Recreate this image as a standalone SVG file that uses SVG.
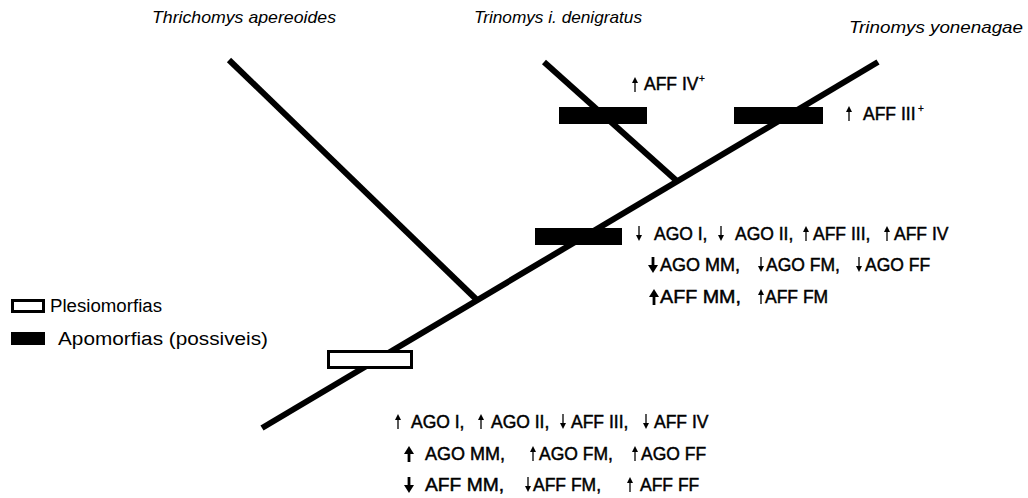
<svg xmlns="http://www.w3.org/2000/svg" xmlns:xlink="http://www.w3.org/1999/xlink" width="1028" height="498" viewBox="0 0 1028 498">
  <style>
    .branch { stroke: #000; stroke-width: 6; fill: none; stroke-linecap: butt; }
    .apo { fill: #000; }
    .ple { fill: #fff; stroke: #000; stroke-width: 3; }
    .taxon { font-family: "Liberation Sans", Arial, sans-serif; font-style: italic; font-size: 17px; fill: #000; }
    .char { font-family: "Liberation Sans", Arial, sans-serif; font-size: 17.5px; fill: #000; stroke: #000; stroke-width: 0.45; }
    .legend { font-family: "Liberation Sans", Arial, sans-serif; font-size: 18px; fill: #000; }
    .sup { font-family: "Liberation Sans", Arial, sans-serif; font-size: 10px; fill: #000; stroke: #000; stroke-width: 0.3; }
    .shaft { stroke: #000; stroke-width: 1.3; fill: none; }
    .shaftB { stroke: #000; stroke-width: 2.8; fill: none; }
  </style>
  <defs>
    <!-- small arrows: origin = centre x, text baseline -->
    <g id="up"><path class="shaft" d="M0,1 V-9"/><path d="M-3,-8 L0,-14 L3,-8 Z"/></g>
    <g id="dn"><path class="shaft" d="M0,-14 V-4"/><path d="M-3,-5 L0,1 L3,-5 Z"/></g>
    <g id="upB"><path class="shaftB" d="M0,2 V-7"/><path d="M-5,-6 L0,-14 L5,-6 Z"/></g>
    <g id="dnB"><path class="shaftB" d="M0,-14 V-5"/><path d="M-5,-6 L0,2 L5,-6 Z"/></g>
  </defs>

  <!-- taxa -->
  <g id="taxon-thrichomys"><text class="taxon" x="152" y="23" textLength="184" lengthAdjust="spacingAndGlyphs">Thrichomys apereoides</text></g>
  <g id="taxon-denigratus"><text class="taxon" x="474" y="23" textLength="168" lengthAdjust="spacingAndGlyphs">Trinomys i. denigratus</text></g>
  <g id="taxon-yonenagae"><text class="taxon" x="849" y="33" textLength="174" lengthAdjust="spacingAndGlyphs">Trinomys yonenagae</text></g>

  <!-- tree branches -->
  <g id="connectors">
    <line class="branch" x1="262" y1="428" x2="878" y2="62"/>
    <line class="branch" x1="229" y1="60" x2="477" y2="300"/>
    <line class="branch" x1="544" y1="62" x2="678" y2="182"/>
  </g>

  <!-- character bars -->
  <g id="bar-plesio-root"><rect class="ple" x="328.5" y="351.5" width="83" height="16"/></g>
  <g id="bar-apo-trinomys"><rect class="apo" x="535" y="228" width="87" height="17"/></g>
  <g id="bar-apo-denigratus"><rect class="apo" x="559" y="107" width="88" height="17"/></g>
  <g id="bar-apo-yonenagae"><rect class="apo" x="734" y="107" width="89" height="17"/></g>

  <!-- legend -->
  <g id="legend-plesio">
    <rect class="ple" x="12.5" y="300.5" width="31" height="11"/>
    <text class="legend" x="50" y="312" textLength="112" lengthAdjust="spacingAndGlyphs">Plesiomorfias</text>
  </g>
  <g id="legend-apo">
    <rect class="apo" x="11" y="332" width="34" height="13"/>
    <text class="legend" x="58" y="345" textLength="210" lengthAdjust="spacingAndGlyphs">Apomorfias (possiveis)</text>
  </g>

  <!-- T. i. denigratus -->
  <g id="chars-denigratus">
    <use xlink:href="#up" x="635" y="91"/>
    <text class="char" x="644" y="90">AFF IV</text>
    <text class="sup" x="699" y="82">+</text>
  </g>

  <!-- T. yonenagae -->
  <g id="chars-yonenagae">
    <use xlink:href="#up" x="849" y="120"/>
    <text class="char" x="863" y="120">AFF III</text>
    <text class="sup" x="918" y="112">+</text>
  </g>

  <!-- Trinomys clade -->
  <g id="chars-trinomys">
    <use xlink:href="#dn" x="639" y="240"/>
    <text class="char" x="654" y="240">AGO I,</text>
    <use xlink:href="#dn" x="721" y="240"/>
    <text class="char" x="735" y="240">AGO II,</text>
    <use xlink:href="#up" x="806" y="240"/>
    <text class="char" x="813" y="240">AFF III,</text>
    <use xlink:href="#up" x="887" y="240"/>
    <text class="char" x="894" y="240">AFF IV</text>

    <use xlink:href="#dnB" x="653" y="271"/>
    <text class="char" x="660" y="271" textLength="80" lengthAdjust="spacingAndGlyphs">AGO MM,</text>
    <use xlink:href="#dn" x="761" y="271"/>
    <text class="char" x="766" y="271">AGO FM,</text>
    <use xlink:href="#dn" x="859" y="271"/>
    <text class="char" x="865" y="271">AGO FF</text>

    <use xlink:href="#upB" x="654" y="303"/>
    <text class="char" x="660" y="303" textLength="81" lengthAdjust="spacingAndGlyphs">AFF MM,</text>
    <use xlink:href="#up" x="761" y="303"/>
    <text class="char" x="765" y="303">AFF FM</text>
  </g>

  <!-- root -->
  <g id="chars-root">
    <use xlink:href="#up" x="398" y="428"/>
    <text class="char" x="411" y="428">AGO I,</text>
    <use xlink:href="#up" x="481" y="428"/>
    <text class="char" x="491" y="428">AGO II,</text>
    <use xlink:href="#dn" x="563" y="428"/>
    <text class="char" x="571" y="428">AFF III,</text>
    <use xlink:href="#dn" x="646" y="428"/>
    <text class="char" x="654" y="428">AFF IV</text>

    <use xlink:href="#upB" x="409" y="460"/>
    <text class="char" x="425" y="460" textLength="80" lengthAdjust="spacingAndGlyphs">AGO MM,</text>
    <use xlink:href="#up" x="533" y="460"/>
    <text class="char" x="539" y="460">AGO FM,</text>
    <use xlink:href="#up" x="635" y="460"/>
    <text class="char" x="641" y="460">AGO FF</text>

    <use xlink:href="#dnB" x="409" y="491"/>
    <text class="char" x="425" y="491" textLength="79" lengthAdjust="spacingAndGlyphs">AFF MM,</text>
    <use xlink:href="#dn" x="528" y="491"/>
    <text class="char" x="533" y="491">AFF FM,</text>
    <use xlink:href="#up" x="630" y="491"/>
    <text class="char" x="640" y="491">AFF FF</text>
  </g>
</svg>
